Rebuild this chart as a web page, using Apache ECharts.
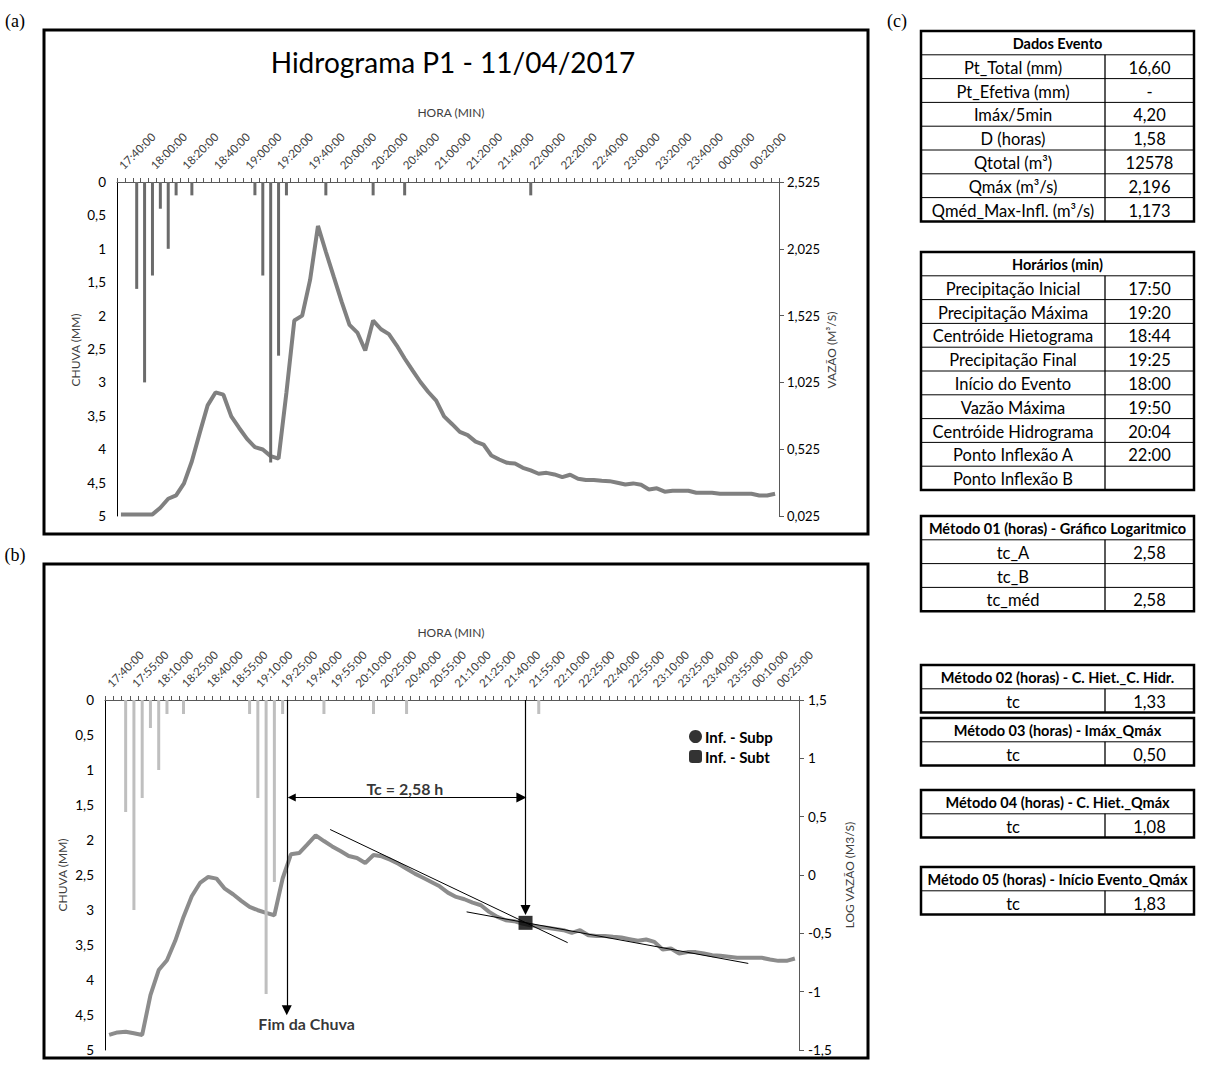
<!DOCTYPE html>
<html><head><meta charset="utf-8">
<script src="https://cdn.jsdelivr.net/npm/echarts@6/dist/echarts.min.js"></script>
<style>html,body{margin:0;padding:0;background:#fff}#c{width:1222px;height:1068px}</style>
</head><body><div id="c"></div>
<script>
// ---------------- DATA ----------------
const categories = ["17:40:00","17:45:00","17:50:00","17:55:00","18:00:00","18:05:00","18:10:00","18:15:00","18:20:00","18:25:00","18:30:00","18:35:00","18:40:00","18:45:00","18:50:00","18:55:00","19:00:00","19:05:00","19:10:00","19:15:00","19:20:00","19:25:00","19:30:00","19:35:00","19:40:00","19:45:00","19:50:00","19:55:00","20:00:00","20:05:00","20:10:00","20:15:00","20:20:00","20:25:00","20:30:00","20:35:00","20:40:00","20:45:00","20:50:00","20:55:00","21:00:00","21:05:00","21:10:00","21:15:00","21:20:00","21:25:00","21:30:00","21:35:00","21:40:00","21:45:00","21:50:00","21:55:00","22:00:00","22:05:00","22:10:00","22:15:00","22:20:00","22:25:00","22:30:00","22:35:00","22:40:00","22:45:00","22:50:00","22:55:00","23:00:00","23:05:00","23:10:00","23:15:00","23:20:00","23:25:00","23:30:00","23:35:00","23:40:00","23:45:00","23:50:00","23:55:00","00:00:00","00:05:00","00:10:00","00:15:00","00:20:00","00:25:00","00:30:00","00:35:00"];

const rainMm = [0,0,1.6,3.0,1.4,0.4,1.0,0.2,0,0.2,
  0,0,0,0,0,0,0,0.2,1.4,4.2,
  2.6,0.2,0,0,0,0,0.2,0,0,0,
  0,0,0.2,0,0,0,0.2,0,0,0,
  0,0,0,0,0,0,0,0,0,0,
  0,0,0.2,0,0,0,0,0,0,0,
  0,0,0,0,0,0,0,0,0,0,
  0,0,0,0,0,0,0,0,0,0,
  0,0,0,0];

const flowM3s = [0.037,0.037,0.037,0.037,0.037,0.087,0.154,0.179,0.269,0.435,
  0.647,0.853,0.95,0.933,0.771,0.684,0.602,0.54,0.523,0.473,
  0.455,0.95,1.488,1.525,1.792,2.196,2.003,1.816,1.63,1.456,
  1.398,1.264,1.488,1.423,1.386,1.301,1.204,1.115,1.028,0.953,
  0.888,0.771,0.714,0.654,0.63,0.582,0.56,0.478,0.448,0.423,
  0.418,0.386,0.366,0.341,0.348,0.336,0.316,0.334,0.304,0.294,
  0.294,0.289,0.286,0.274,0.261,0.269,0.259,0.224,0.232,0.207,
  0.214,0.214,0.214,0.199,0.199,0.199,0.192,0.192,0.192,0.192,
  0.192,0.179,0.179,0.192];

const logFlow = [-1.371,-1.349,-1.343,-1.357,-1.371,-1.029,-0.815,-0.730,-0.564,-0.359,
  -0.182,-0.068,-0.017,-0.031,-0.117,-0.165,-0.222,-0.274,-0.302,-0.325,
  -0.345,-0.03,0.177,0.188,0.263,0.340,0.291,0.245,0.205,0.163,
  0.146,0.103,0.171,0.160,0.131,0.097,0.054,0.012,-0.023,-0.060,
  -0.097,-0.151,-0.188,-0.208,-0.237,-0.259,-0.316,-0.359,-0.388,-0.396,
  -0.416,-0.430,-0.445,-0.453,-0.462,-0.473,-0.496,-0.473,-0.516,-0.522,
  -0.522,-0.530,-0.536,-0.550,-0.564,-0.553,-0.573,-0.639,-0.630,-0.673,
  -0.661,-0.661,-0.673,-0.687,-0.693,-0.701,-0.710,-0.710,-0.710,-0.710,
  -0.724,-0.736,-0.736,-0.716];

const flowTicks = [0.025,0.525,1.025,1.525,2.025,2.525];

// annotations (x in category units on a continuous axis, y in log-flow units)
const inflexSubt = [[50.9,-0.41]];
const inflexSubp = [];
const tangentA = [[27.25,0.39],[56.0,-0.58]];
const tangentB = [[43.77,-0.316],[77.86,-0.758]];
const rainEndArrow = [[22.0,1.5],[22.0,-1.16]];
const inflexArrow = [[50.9,1.5],[50.9,-0.30]];
const tcArrow = [[22.6,0.665],[50.4,0.665]];
const tcLabel = [[36.3,0.74]];
const rainEndLabel = [[24.4,-1.27]];

// tables
const dadosEvento = [['Pt_Total (mm)','16,60'],['Pt_Efetiva (mm)','-'],['Imáx/5min','4,20'],['D (horas)','1,58'],['Qtotal (m³)','12578'],['Qmáx (m³/s)','2,196'],['Qméd_Max-Infl. (m³/s)','1,173']];
const horarios = [['Precipitação Inicial','17:50'],['Precipitação Máxima','19:20'],['Centróide Hietograma','18:44'],['Precipitação Final','19:25'],['Início do Evento','18:00'],['Vazão Máxima','19:50'],['Centróide Hidrograma','20:04'],['Ponto Inflexão A','22:00'],['Ponto Inflexão B','']];
const metodo01 = [['tc_A','2,58'],['tc_B',''],['tc_méd','2,58']];
const metodo02 = [['tc','1,33']];
const metodo03 = [['tc','0,50']];
const metodo04 = [['tc','1,08']];
const metodo05 = [['tc','1,83']];
const tableTitles = ['Dados Evento','Horários (min)','Método 01 (horas) - Gráfico Logaritmico','Método 02 (horas) - C. Hiet._C. Hidr.','Método 03 (horas) - Imáx_Qmáx','Método 04 (horas) - C. Hiet._Qmáx','Método 05 (horas) - Início Evento_Qmáx'];
const tableRows = [dadosEvento,horarios,metodo01,metodo02,metodo03,metodo04,metodo05];

// ---------------- LAYOUT ----------------
const FONT = 'Lato';
const tableTops = [31,252,516,665,718,790,867];
const TL = 921, TS = 1105, TR = 1194, RH = 23.8;

const comma = v => String(+(+v).toFixed(3)).replace('.', ',');

function txt(text, x, y, o) {
  o = o || {};
  const st = {text:text, fill:o.color||'#000', font:(o.weight||'normal')+' '+(o.size||14)+'px '+(o.family||FONT),
    textAlign:o.align||'center', textVerticalAlign:'middle', align:o.align||'center', verticalAlign:'middle'};
  if (o.width) { st.width = o.width; st.overflow = 'truncate'; st.ellipsis = ''; }
  return {type:'text', x:x, y:y, rotation:o.rotation||0, style:st, z:o.z||20, silent:true};
}

const graphics = [];
// frames
graphics.push({type:'rect', shape:{x:44,y:30,width:824,height:504}, style:{fill:'none',stroke:'#000',lineWidth:3}, z:1});
graphics.push({type:'rect', shape:{x:44,y:564,width:824,height:494}, style:{fill:'none',stroke:'#000',lineWidth:3}, z:1});
graphics.push(txt('(a)', 15, 21, {family:'Liberation Serif', size:18}));
graphics.push(txt('(b)', 15, 555, {family:'Liberation Serif', size:18}));
graphics.push(txt('(c)', 897, 21, {family:'Liberation Serif', size:18}));
graphics.push(txt('Hidrograma P1 - 11/04/2017', 453, 62, {size:28}));
graphics.push(txt('HORA (MIN)', 451, 112, {size:12, color:'#404040'}));
graphics.push(txt('HORA (MIN)', 451, 632, {size:12, color:'#404040'}));
graphics.push(txt('CHUVA (MM)', 75, 350, {size:12, color:'#404040', rotation:Math.PI/2}));
graphics.push(txt('VAZÃO (M³/S)', 831, 350, {size:12, color:'#404040', rotation:Math.PI/2}));
graphics.push(txt('CHUVA (MM)', 62, 875, {size:12, color:'#404040', rotation:Math.PI/2}));
graphics.push(txt('LOG VAZÃO (M3/S)', 849, 875, {size:12, color:'#404040', rotation:Math.PI/2}));

tableRows.forEach((rows, t) => {
  const top = tableTops[t];
  const n = rows.length + 1;
  const h = n * RH;
  graphics.push({type:'rect', shape:{x:TL,y:top,width:TR-TL,height:h}, style:{fill:'#fff',stroke:'#000',lineWidth:2.5}, z:10});
  for (let k = 1; k < n; k++) graphics.push({type:'line', shape:{x1:TL,y1:top+k*RH,x2:TR,y2:top+k*RH}, style:{stroke:'#000',lineWidth:1}, z:11});
  graphics.push({type:'line', shape:{x1:TS,y1:top+RH,x2:TS,y2:top+h}, style:{stroke:'#000',lineWidth:1.3}, z:11});
  graphics.push(txt(tableTitles[t], (TL+TR)/2, top+RH/2+1, {weight:'bold', size:14.5, width:TR-TL-3}));
  rows.forEach((r, k) => {
    graphics.push(txt(r[0], (TL+TS)/2, top+(k+1.5)*RH+1, {size:16.5}));
    graphics.push(txt(r[1], (TS+TR)/2, top+(k+1.5)*RH+1, {size:16.5}));
  });
});

// ---------------- CHART ----------------
const chart = echarts.init(document.getElementById('c'), null, {renderer:'svg'});
const axisCol = '#595959';
const xCat = (grid, interval) => ({
  type:'category', gridIndex:grid, position:'top', data:categories, boundaryGap:true,
  axisLine:{show:true, onZero:false, lineStyle:{color:axisCol,width:1}},
  axisTick:{show:true, interval:0, inside:false, length:4, lineStyle:{color:axisCol}},
  axisLabel:{interval:interval, rotate:-45, fontSize:11.5, color:'#404040', margin:15, fontFamily:FONT},
  splitLine:{show:false}
});
const yRain = grid => ({
  type:'value', gridIndex:grid, position:'left', inverse:true, min:0, max:5, interval:0.5,
  axisLine:{show:true, lineStyle:{color:'#000',width:1}}, axisTick:{show:false}, splitLine:{show:false},
  axisLabel:{formatter:comma, fontSize:13.5, color:'#000', margin:11, fontFamily:FONT}
});

chart.setOption({
  animation:false,
  textStyle:{fontFamily:FONT},
  grid:[{left:117, top:182, width:662, height:334}, {left:105, top:700, width:694, height:350}],
  xAxis:[xCat(0,3), xCat(1,2), {type:'value', gridIndex:1, min:0, max:84, show:false}],
  yAxis:[
    yRain(0),
    {type:'value', gridIndex:0, position:'right', min:0.025, max:2.525,
      axisLine:{show:true, lineStyle:{color:axisCol,width:1}},
      axisTick:{show:true, customValues:flowTicks, length:5, lineStyle:{color:axisCol}},
      axisLabel:{customValues:flowTicks, formatter:comma, fontSize:13, color:'#000', margin:8, fontFamily:FONT},
      splitLine:{show:false}},
    yRain(1),
    {type:'value', gridIndex:1, position:'right', min:-1.5, max:1.5, interval:0.5,
      axisLine:{show:true, lineStyle:{color:axisCol,width:1}},
      axisTick:{show:true, length:5, lineStyle:{color:axisCol}},
      axisLabel:{formatter:comma, fontSize:13.5, color:'#000', margin:9, fontFamily:FONT},
      splitLine:{show:false}}
  ],
  legend:{data:[{name:'Inf. - Subp', icon:'circle'},{name:'Inf. - Subt', icon:'roundRect'}],
    orient:'vertical', left:684, top:724, itemWidth:13, itemHeight:13, itemGap:5, selectedMode:false,
    textStyle:{fontWeight:'bold', fontSize:15, color:'#000', fontFamily:FONT, padding:[0,0,0,-2]}},
  graphic:{elements:graphics},
  series:[
    {name:'Vazão', type:'line', xAxisIndex:0, yAxisIndex:1, data:flowM3s, symbol:'none',
      lineStyle:{color:'#808080', width:4}, z:2},
    {name:'Chuva', type:'bar', xAxisIndex:0, yAxisIndex:0, data:rainMm, barWidth:3,
      itemStyle:{color:'#6b6b6b'}, z:3},
    {name:'Log Vazão', type:'line', xAxisIndex:1, yAxisIndex:3, data:logFlow, symbol:'none',
      lineStyle:{color:'#8c8c8c', width:4}, z:2},
    {name:'Chuva b', type:'bar', xAxisIndex:1, yAxisIndex:2, data:rainMm, barWidth:3,
      itemStyle:{color:'#bfbfbf'}, z:3},
    {name:'Tangentes', type:'lines', coordinateSystem:'cartesian2d', xAxisIndex:2, yAxisIndex:3,
      symbol:['none','none'], lineStyle:{color:'#000', width:1, opacity:1}, z:5,
      data:[{coords:tangentA},{coords:tangentB}]},
    {name:'Setas', type:'lines', coordinateSystem:'cartesian2d', xAxisIndex:2, yAxisIndex:3,
      symbol:['none','triangle'], symbolSize:[8,10], lineStyle:{color:'#000', width:1.2, opacity:1}, z:5,
      data:[{coords:rainEndArrow},{coords:inflexArrow}]},
    {name:'Tc', type:'lines', coordinateSystem:'cartesian2d', xAxisIndex:2, yAxisIndex:3,
      symbol:['triangle','triangle'], symbolSize:[8,10], lineStyle:{color:'#000', width:1.2, opacity:1}, z:5,
      data:[{coords:tcArrow}]},
    {name:'Inf. - Subp', type:'scatter', xAxisIndex:2, yAxisIndex:3, data:inflexSubp, symbol:'circle',
      itemStyle:{color:'#000'}},
    {name:'Inf. - Subt', type:'scatter', xAxisIndex:2, yAxisIndex:3, data:inflexSubt, symbol:'rect',
      symbolSize:14, itemStyle:{color:'#000'}, z:6},
    {name:'lblTc', type:'scatter', xAxisIndex:2, yAxisIndex:3, data:tcLabel, symbolSize:0,
      label:{show:true, position:'inside', formatter:'Tc = 2,58 h', fontWeight:'bold', fontSize:16, color:'#000', fontFamily:FONT}, z:6},
    {name:'lblFim', type:'scatter', xAxisIndex:2, yAxisIndex:3, data:rainEndLabel, symbolSize:0,
      label:{show:true, position:'inside', formatter:'Fim da Chuva', fontWeight:'bold', fontSize:16, color:'#000', fontFamily:FONT}, z:6}
  ]
});
</script>
</body></html>
